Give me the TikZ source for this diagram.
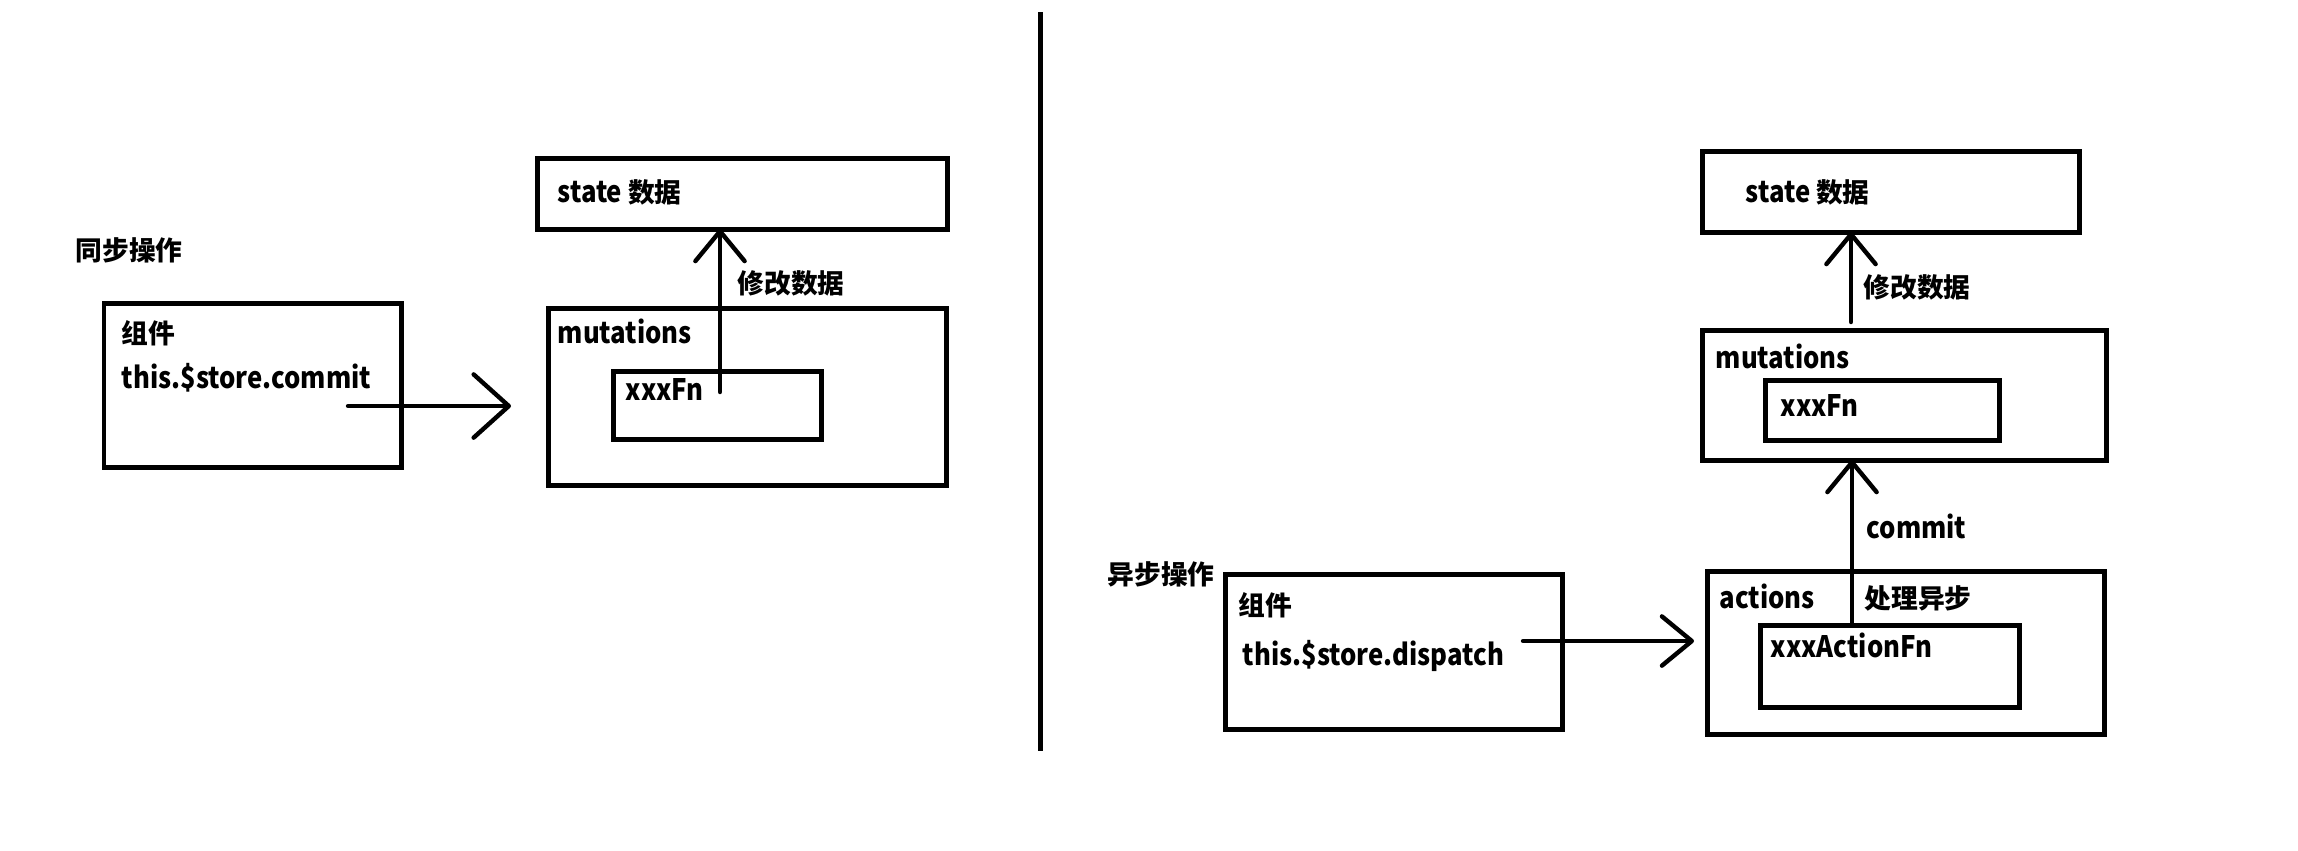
\documentclass[tikz,border=0pt]{standalone}
\usepackage{fontspec}
\setmainfont{Noto Sans CJK SC}
\newfontfamily\latfont{Noto Sans CJK SC}[FakeStretch=0.87]
\usetikzlibrary{arrows.meta,fit}
\newcommand{\hz}{\fontsize{7.6}{9}\selectfont\normalfont\bfseries}
\tikzset{
  box/.style={draw=black,line width=1.42pt,inner sep=0pt,outer sep=0pt},
  lat/.style={inner sep=0pt,anchor=west,text height=0.72em,text depth=0.12em,font=\fontsize{8.4}{10}\selectfont\latfont\bfseries},
  han/.style={inner sep=0pt,anchor=west,text height=0.72em,text depth=0.12em,font=\hz},
  arr/.style={line width=1.25pt,line cap=round,-{Straight Barb[length=8.5pt,width=14pt,line cap=round,line join=round]}},
  bigarr/.style={line width=1.25pt,line cap=round,-{Straight Barb[length=10pt,width=18pt,line cap=round,line join=round]}},
  divider/.style={line width=1.42pt}
}
\begin{document}
\begin{tikzpicture}[x=0.01cm,y=-0.01cm]
\useasboundingbox (0,0) rectangle (2298,850);
% ---------- left: synchronous ----------
\node[han] (syncL) at (75,250) {同步操作};
\node[box,fit={(537,158) (947,229)}] (stateL) {};
\node[lat] (stateLt) at (557,192) {state {\hz 数据}};
\node[box,fit={(104,303) (401,467)}] (compL) {};
\node[han] (compLt) at (121,333) {组件};
\node[lat] (commitL) at (121,378) {this.\$store.commit};
\node[box,fit={(548,308) (946,485)}] (mutL) {};
\node[lat] (mutLt) at (557,333) {mutations};
\node[box,fit={(613,371) (821,439)}] (fnL) {};
\node[lat] (fnLt) at (625,390) {xxxFn};
\coordinate (a1s) at (348,406);
\coordinate (a1e) at (511,406);
\draw[bigarr] (a1s) -- (a1e);
\coordinate (a2s) at (720,392);
\draw[arr] (a2s) -- (a2s |- stateL.south);
\node[han] (modL) at (737,283) {修改数据};
% ---------- divider ----------
\coordinate (dtop) at (1040,12);
\coordinate (dbot) at (1040,751);
\draw[divider] (dtop) -- (dbot);
% ---------- right: asynchronous ----------
\node[box,fit={(1702,151) (2079,232)}] (stateR) {};
\node[lat] (stateRt) at (1745,192) {state {\hz 数据}};
\node[box,fit={(1702,330) (2106,460)}] (mutR) {};
\node[lat] (mutRt) at (1715,358) {mutations};
\node[box,fit={(1765,380) (1999,440)}] (fnR) {};
\node[lat] (fnRt) at (1780,406) {xxxFn};
\coordinate (a3s) at (1851,322);
\draw[arr] (a3s) -- (a3s |- stateR.south);
\node[han] (modR) at (1863,287) {修改数据};
\node[han] (asyncR) at (1107,574) {异步操作};
\node[box,fit={(1225,574) (1562,729)}] (compR) {};
\node[han] (compRt) at (1238,605) {组件};
\node[lat] (dispR) at (1242,655) {this.\$store.dispatch};
\node[box,fit={(1707,571) (2104,734)}] (actR) {};
\node[lat] (actRt) at (1719,598) {actions};
\node[han] (procR) at (1864,598) {处理异步};
\node[box,fit={(1760,625) (2019,707)}] (afnR) {};
\node[lat] (afnRt) at (1770,647) {xxxActionFn};
\coordinate (a4s) at (1523,641);
\coordinate (a4e) at (1694,641);
\draw[arr] (a4s) -- (a4e);
\coordinate (a5s) at (1852,625);
\draw[arr] (a5s |- afnR.north) -- (a5s |- mutR.south);
\node[lat] (commitR) at (1866,528) {commit};
\end{tikzpicture}
\end{document}
